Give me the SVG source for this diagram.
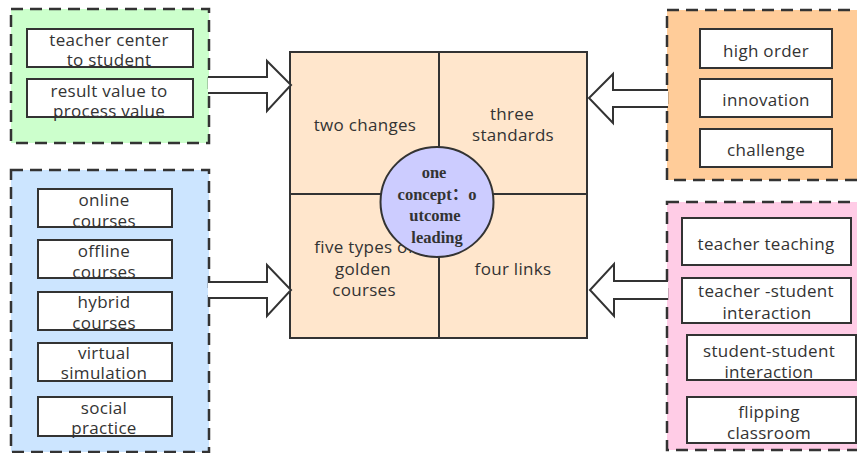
<svg xmlns="http://www.w3.org/2000/svg" width="857" height="453" viewBox="0 0 857 453">
<style>
.cont{stroke:#333;stroke-width:2.5;stroke-dasharray:12 7}
.item{fill:#fff;stroke:#333;stroke-width:2}
.t{font-family:"Open Sans","Noto Sans",sans-serif;font-size:17px;letter-spacing:0.3px;fill:#333;text-anchor:middle}
.c{font-family:"Liberation Serif","Noto Sans CJK SC",serif;font-size:16.5px;font-weight:bold;fill:#333;text-anchor:middle}
.arrow{fill:#fff;stroke:#333;stroke-width:2;stroke-linejoin:miter}
.grid{fill:none;stroke:#333;stroke-width:2}
</style>
<rect width="857" height="453" fill="#fff"/>

<g id="green-group">
<rect class="cont" x="11" y="9" width="198" height="134" fill="#ccffcc"/>
<rect class="item" x="27" y="29" width="166" height="38"/>
<text class="t" x="109" y="46">teacher center</text>
<text class="t" x="109" y="66">to student</text>
<rect class="item" x="27" y="79" width="166" height="38"/>
<text class="t" x="109" y="97">result value to</text>
<text class="t" x="109" y="117">process value</text>
</g>

<g id="blue-group">
<rect class="cont" x="11" y="170" width="198" height="282" fill="#cce5ff"/>
<rect class="item" x="38" y="189" width="134" height="38"/>
<text class="t" x="104" y="206">online</text>
<text class="t" x="104" y="227">courses</text>
<rect class="item" x="38" y="240" width="134" height="38"/>
<text class="t" x="104" y="257">offline</text>
<text class="t" x="104" y="278">courses</text>
<rect class="item" x="38" y="292" width="134" height="38"/>
<text class="t" x="104" y="308">hybrid</text>
<text class="t" x="104" y="329">courses</text>
<rect class="item" x="38" y="343" width="134" height="38"/>
<text class="t" x="104" y="359">virtual</text>
<text class="t" x="104" y="379">simulation</text>
<rect class="item" x="38" y="397" width="134" height="39"/>
<text class="t" x="104" y="414">social</text>
<text class="t" x="104" y="434">practice</text>
</g>

<g id="orange-group">
<rect class="cont" x="667" y="10" width="200" height="170" fill="#ffcc99"/>
<rect class="item" x="700" y="29" width="132" height="39"/>
<text class="t" x="766" y="57">high order</text>
<rect class="item" x="700" y="79" width="132" height="38"/>
<text class="t" x="766" y="106">innovation</text>
<rect class="item" x="700" y="129" width="132" height="38"/>
<text class="t" x="766" y="156">challenge</text>
</g>

<g id="pink-group">
<rect class="cont" x="667" y="202" width="200" height="248" fill="#ffcce6"/>
<rect class="item" x="682" y="218" width="169" height="47"/>
<text class="t" x="766" y="250">teacher teaching</text>
<rect class="item" x="682" y="278" width="169" height="45"/>
<text class="t" x="766" y="297">teacher -student</text>
<text class="t" x="767" y="319">interaction</text>
<rect class="item" x="687" y="335" width="169" height="45"/>
<text class="t" x="769" y="357">student-student</text>
<text class="t" x="769" y="378">interaction</text>
<rect class="item" x="687" y="397" width="169" height="46"/>
<text class="t" x="769" y="418">flipping</text>
<text class="t" x="769" y="439">classroom</text>
</g>

<g id="center-grid">
<rect x="290" y="52" width="297" height="286" fill="#ffe6cc" stroke="#333" stroke-width="2"/>
<line class="grid" x1="439" y1="52" x2="439" y2="338"/>
<line class="grid" x1="290" y1="194" x2="587" y2="194"/>
<text class="t" x="365" y="131">two changes</text>
<text class="t" x="512" y="120">three</text>
<text class="t" x="513" y="141">standards</text>
<text class="t" x="364" y="253">five types of</text>
<text class="t" x="363" y="275">golden</text>
<text class="t" x="364" y="296">courses</text>
<text class="t" x="513" y="275">four links</text>
</g>

<g id="concept-circle">
<ellipse cx="437" cy="202" rx="56.5" ry="55" fill="#ccccff" stroke="#333" stroke-width="2"/>
<text class="c" x="434" y="178">one</text>
<text class="c" x="437" y="200">concept：o</text>
<text class="c" x="435" y="221">utcome</text>
<text class="c" x="437" y="243">leading</text>
</g>

<g id="connectors">
<path class="arrow" d="M208,77 L267,77 L267,61 L291,85 L267,111 L267,93 L208,93"/>
<path class="arrow" d="M208,282 L267,282 L267,265 L291,290 L267,316 L267,298 L208,298"/>
<path class="arrow" d="M668,90 L613,90 L613,74 L589,98 L613,123 L613,107 L668,107"/>
<path class="arrow" d="M668,281 L614,281 L614,264 L590,290 L614,316 L614,299 L668,299"/>
</g>
</svg>
